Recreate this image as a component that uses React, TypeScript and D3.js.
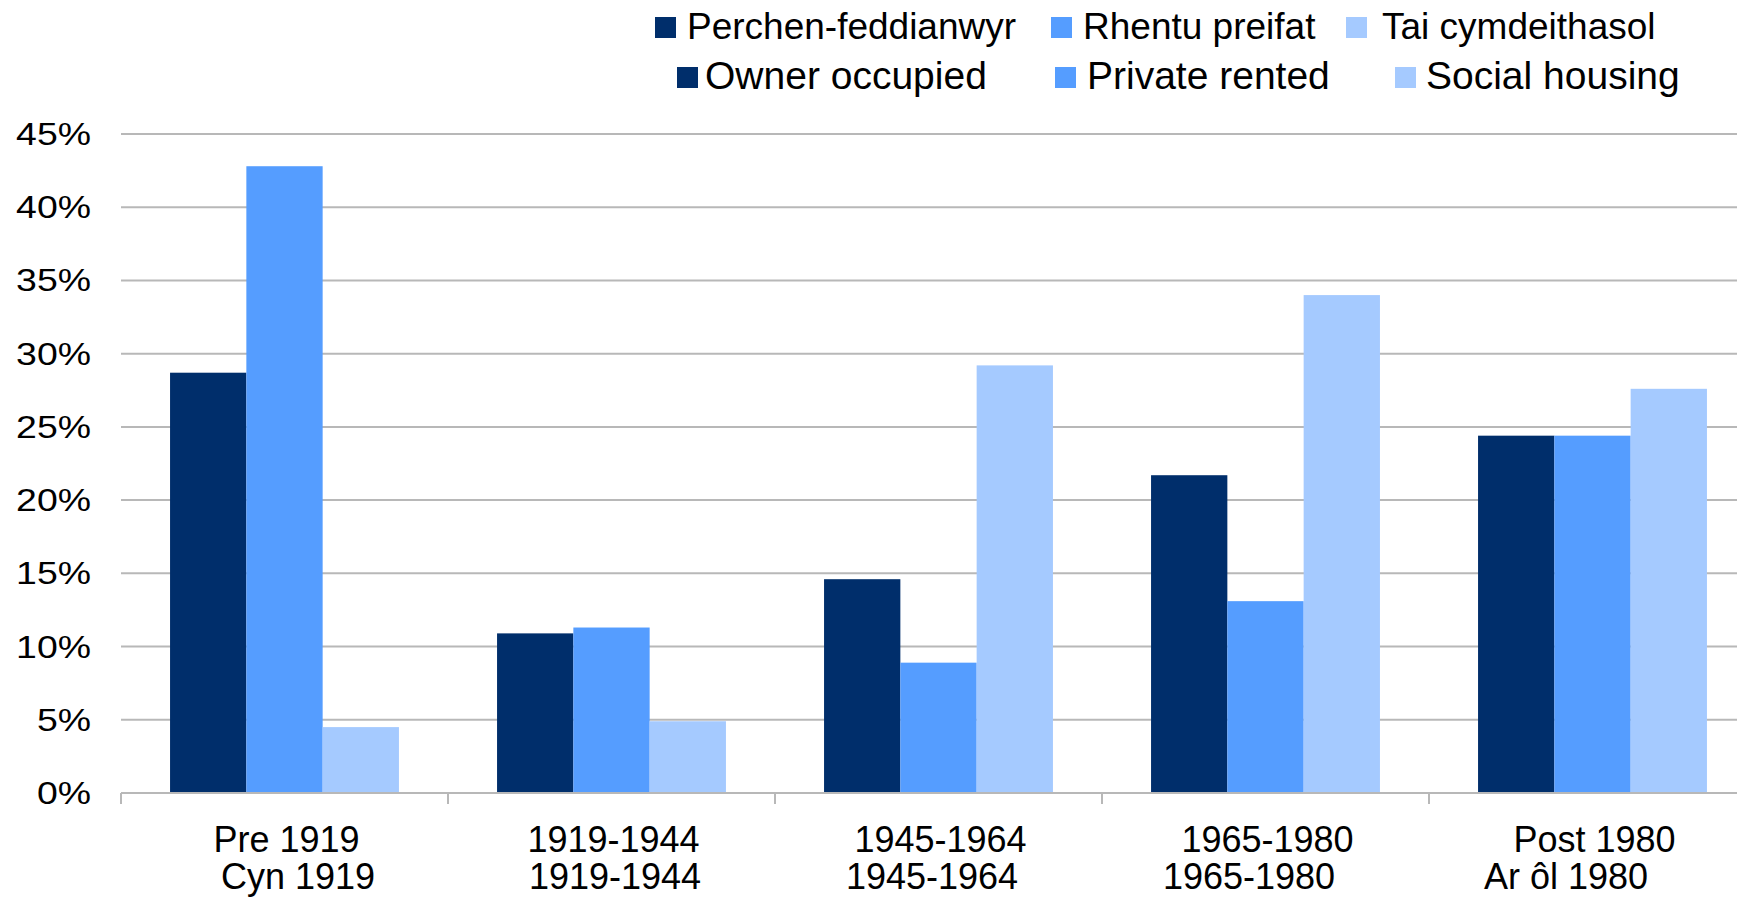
import { useEffect, useRef } from "react";
import * as d3 from "d3";

// Period categories (English line + Welsh line)
const periods = ["Pre 1919", "1919-1944", "1945-1964", "1965-1980", "Post 1980"];
const periodsWelsh = ["Cyn 1919", "1919-1944", "1945-1964", "1965-1980", "Ar ôl 1980"];

const seriesKeys = ["owner", "private", "social"];
const seriesEnglish = ["Owner occupied", "Private rented", "Social housing"];
const seriesWelsh = ["Perchen-feddianwyr", "Rhentu preifat", "Tai cymdeithasol"];

// Share of dwellings in each tenure built in each period (fraction)
const ownerOccupied = [0.287, 0.109, 0.146, 0.217, 0.244];
const privateRented = [0.428, 0.113, 0.089, 0.131, 0.244];
const socialHousing = [0.045, 0.049, 0.292, 0.34, 0.276];

const yTicks = [0, 0.05, 0.1, 0.15, 0.2, 0.25, 0.3, 0.35, 0.4, 0.45];

const colors = ["#002e6b", "#559dff", "#a5caff"];

export default function App() {
  const svgRef = useRef<SVGSVGElement | null>(null);

  useEffect(() => {
    if (!svgRef.current) return;

    const W = 1737;
    const H = 900;
    const font = "'Liberation Sans', Arial, sans-serif";

    const svg = d3.select(svgRef.current);
    svg.selectAll("*").remove();
    svg.attr("width", W).attr("height", H);

    const values = [ownerOccupied, privateRented, socialHousing];
    const rows = periods.map((p, i) => ({
      period: p,
      owner: ownerOccupied[i],
      private: privateRented[i],
      social: socialHousing[i],
    }));

    // plot extends a little past the right edge of the picture
    const left = 121;
    const right = 1756;
    const bottom = 793;
    const top = 134;

    const x0 = d3
      .scaleBand<string>()
      .domain(periods)
      .range([left, right])
      .paddingInner(0.3)
      .paddingOuter(0.15);

    const x1 = d3
      .scaleBand<string>()
      .domain(seriesKeys)
      .range([0, x0.bandwidth()]);

    // Welsh labels sit in their own evenly spaced boxes
    const xWelsh = d3
      .scalePoint<string>()
      .domain(periodsWelsh)
      .range([298, 1566]);

    const y = d3.scaleLinear().domain([0, 0.45]).range([bottom, top]);

    // gridlines
    svg
      .append("g")
      .selectAll("line")
      .data(yTicks.filter((t) => t > 0))
      .enter()
      .append("line")
      .attr("x1", left)
      .attr("x2", W)
      .attr("y1", (d) => y(d))
      .attr("y2", (d) => y(d))
      .attr("stroke", "#b8b8b8")
      .attr("stroke-width", 2);

    // y labels
    svg
      .append("g")
      .selectAll("text")
      .data(yTicks)
      .enter()
      .append("text")
      .attr("transform", (d) => `translate(91,${y(d) + 11}) scale(1.17,1)`)
      .attr("text-anchor", "end")
      .attr("font-family", font)
      .attr("font-size", 32)
      .attr("fill", "#000")
      .text((d) => d3.format(".0%")(d));

    // bars
    const groups = svg
      .append("g")
      .selectAll("g")
      .data(rows)
      .enter()
      .append("g")
      .attr("transform", (d) => `translate(${x0(d.period)},0)`);

    seriesKeys.forEach((key, k) => {
      groups
        .append("rect")
        .attr("x", x1(key)!)
        .attr("width", x1.bandwidth())
        .attr("y", (_d, i) => y(values[k][i]))
        .attr("height", (_d, i) => bottom - y(values[k][i]))
        .attr("fill", colors[k]);
    });

    // x axis line and boundary ticks
    svg
      .append("line")
      .attr("x1", left)
      .attr("x2", W)
      .attr("y1", bottom)
      .attr("y2", bottom)
      .attr("stroke", "#b8b8b8")
      .attr("stroke-width", 2);

    const step = x0.step();
    svg
      .append("g")
      .selectAll("line")
      .data(d3.range(periods.length + 1))
      .enter()
      .append("line")
      .attr("x1", (i) => left + i * step)
      .attr("x2", (i) => left + i * step)
      .attr("y1", bottom)
      .attr("y2", bottom + 11)
      .attr("stroke", "#b8b8b8")
      .attr("stroke-width", 2);

    // category labels
    svg
      .append("g")
      .selectAll("text")
      .data(periods)
      .enter()
      .append("text")
      .attr("x", (d) => x0(d)! + x0.bandwidth() / 2 + 2)
      .attr("y", 852)
      .attr("text-anchor", "middle")
      .attr("font-family", font)
      .attr("font-size", 36)
      .text((d) => d);

    svg
      .append("g")
      .selectAll("text")
      .data(periodsWelsh)
      .enter()
      .append("text")
      .attr("x", (d) => xWelsh(d)!)
      .attr("y", 889)
      .attr("text-anchor", "middle")
      .attr("font-family", font)
      .attr("font-size", 36)
      .text((d) => d);

    // legend: Welsh row on top, English row below
    const legendRows = [
      { labels: seriesWelsh, boxX: [655, 1051, 1346], textX: [687, 1083, 1382], baseline: 39, size: 37 },
      { labels: seriesEnglish, boxX: [677, 1055, 1395], textX: [705, 1087, 1426], baseline: 89, size: 39 },
    ];

    legendRows.forEach((row) => {
      const g = svg.append("g");
      row.labels.forEach((label, k) => {
        g.append("rect")
          .attr("x", row.boxX[k])
          .attr("y", row.baseline - 22)
          .attr("width", 21)
          .attr("height", 21)
          .attr("fill", colors[k]);
        g.append("text")
          .attr("x", row.textX[k])
          .attr("y", row.baseline)
          .attr("font-family", font)
          .attr("font-size", row.size)
          .text(label);
      });
    });
  }, []);

  return (
    <svg
      ref={svgRef}
      style={{ position: "absolute", left: 0, top: 0, display: "block", background: "#fff" }}
    />
  );
}
